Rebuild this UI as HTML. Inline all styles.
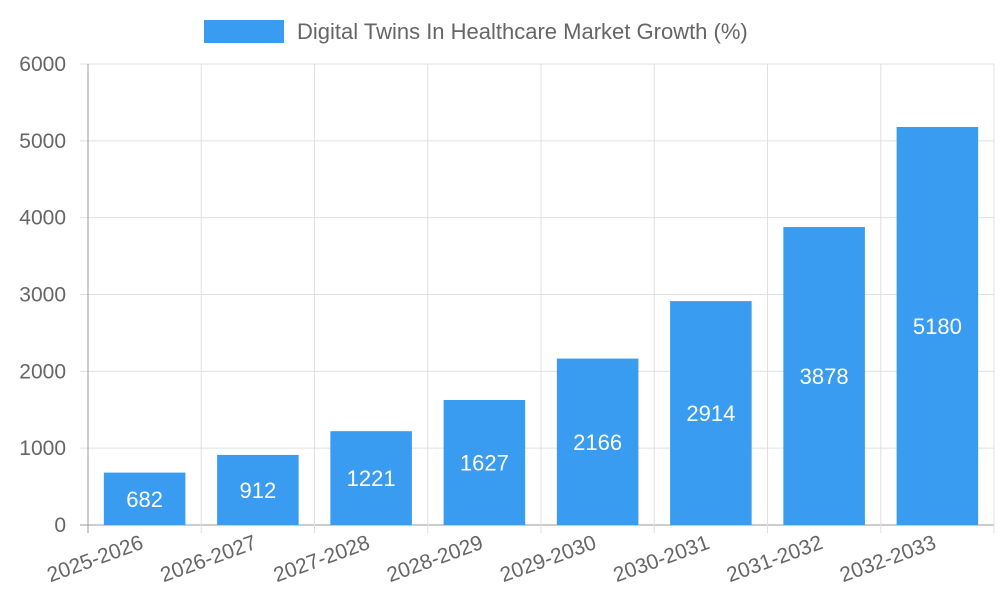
<!DOCTYPE html>
<html><head><meta charset="utf-8"><style>
body{margin:0;background:#fff;}
svg{display:block;font-family:"Liberation Sans",sans-serif;}
</style></head><body>
<svg id="chart" width="1000" height="600">
<g id="grid"></g>
<g id="bars"></g>
<g id="axes"></g>
<g>
<rect x="204" y="20" width="80" height="23" fill="#399cf0"/>
<text x="297" y="39" font-size="22" fill="#666">Digital Twins In Healthcare Market Growth (%)</text>
</g>
</svg>
<script>
const categories=["2025-2026","2026-2027","2027-2028","2028-2029","2029-2030","2030-2031","2031-2032","2032-2033"];
const values=[682,912,1221,1627,2166,2914,3878,5180];
const yTicks=[0,1000,2000,3000,4000,5000,6000];
const NS="http://www.w3.org/2000/svg";
const L=88,R=994,T=64,B=525,yMax=6000;
const bw=(R-L)/categories.length;
const x=i=>L+i*bw;
const y=v=>B-(v/yMax)*(B-T);
function mk(tag,attrs,parent,txt){const e=document.createElementNS(NS,tag);for(const k in attrs)e.setAttribute(k,attrs[k]);if(txt!==undefined)e.textContent=txt;parent.appendChild(e);return e;}
const grid=document.getElementById('grid'),bars=document.getElementById('bars'),axes=document.getElementById('axes');
yTicks.forEach(t=>{
 const g=mk('line',{x1:L-8,x2:R,y1:y(t),y2:y(t),stroke:t===0?'#999':'#e0e0e0','stroke-width':1},grid);
 
 
 const lb=mk('text',{x:66,y:y(t)+7,'text-anchor':'end','font-size':21,fill:'#666'},axes,String(t));
 
 
});
for(let i=0;i<=categories.length;i++){
 const g=mk('line',{x1:x(i),x2:x(i),y1:T,y2:B+8,stroke:i===0?'#999':'#e0e0e0','stroke-width':1},grid);
 
 
}
categories.forEach((c,i)=>{
 const cx=x(i)+bw/2,w=bw*0.72,top=y(values[i]);
 const r=mk('rect',{x:cx-w/2,y:top,width:w,height:B-top,fill:'#399cf0'},bars);
 
 
 const v=mk('text',{x:cx,y:(top+B)/2+8,'text-anchor':'middle','font-size':22,fill:'#fff'},bars,String(values[i]));
 
 
 const lb=mk('text',{x:cx,y:548,'text-anchor':'end','font-size':21,fill:'#666',transform:`rotate(-20 ${cx} 548)`},axes,c);
 
 
});
</script>
</body></html>
